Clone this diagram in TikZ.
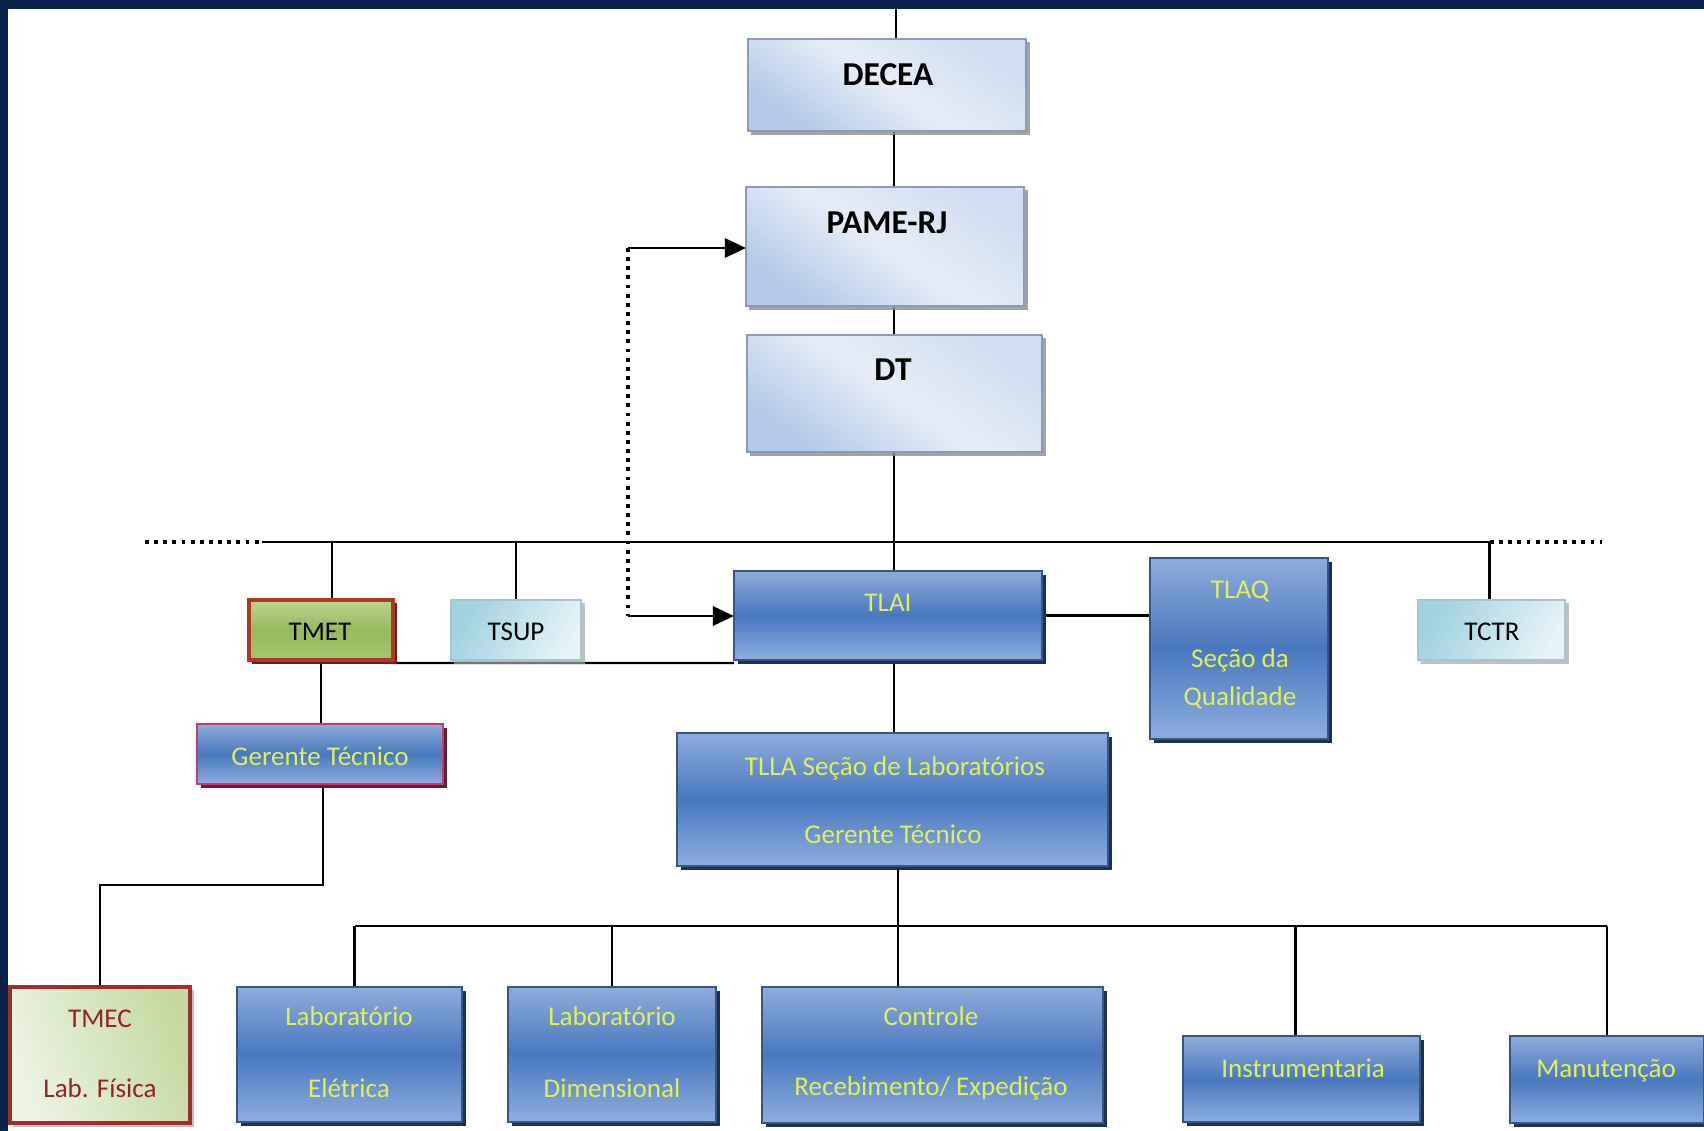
\documentclass[tikz,border=0pt]{standalone}
\usepackage{fontspec}
\setmainfont{Carlito}
\usetikzlibrary{arrows.meta,shadows,calc}
\pgfdeclarelayer{bg}
\pgfsetlayers{bg,main}
\definecolor{navy}{RGB}{10,35,75}
\definecolor{ylw}{RGB}{222,240,90}
\definecolor{paleT}{RGB}{208,222,242}
\definecolor{paleM}{RGB}{230,237,247}
\definecolor{paleB}{RGB}{178,201,233}
\definecolor{paleEdge}{RGB}{140,155,178}
\definecolor{blueT}{RGB}{142,172,218}
\definecolor{blueM}{RGB}{72,120,190}
\definecolor{blueB}{RGB}{142,174,222}
\definecolor{blueEdge}{RGB}{55,85,135}
\definecolor{blueShadow}{RGB}{30,48,82}
\definecolor{grnT}{RGB}{192,212,142}
\definecolor{grnM}{RGB}{150,186,96}
\definecolor{grnB}{RGB}{165,198,108}
\definecolor{redEdge}{RGB}{175,55,35}
\definecolor{redShadow}{RGB}{95,35,25}
\definecolor{cyanL}{RGB}{160,210,224}
\definecolor{cyanR}{RGB}{230,243,248}
\definecolor{cyanEdge}{RGB}{165,198,208}
\definecolor{crimson}{RGB}{200,60,100}
\definecolor{maroon}{RGB}{95,30,55}
\definecolor{mecL}{RGB}{236,244,228}
\definecolor{mecR}{RGB}{196,218,160}
\definecolor{mecEdge}{RGB}{160,45,45}
\definecolor{mecText}{RGB}{150,35,35}
\tikzset{
  conn/.style={line width=0.65pt, draw=black},
  dotline/.style={line width=1.1pt, dash pattern=on 1.1pt off 1.5pt},
  arrowline/.style={conn, -{Triangle[length=6pt,width=5.5pt]}},
  box/.style={rectangle, inner sep=0pt, outer sep=0pt},
  palebox/.style={box, draw=paleEdge, line width=0.4pt, top color=paleT, bottom color=paleB, middle color=paleM, shading angle=-35,
    drop shadow={shadow xshift=0.035cm, shadow yshift=-0.035cm, opacity=0.8, fill=black!45}},
  bluebox/.style={box, draw=blueEdge, line width=0.4pt, top color=blueT, bottom color=blueB, middle color=blueM,
    drop shadow={shadow xshift=0.04cm, shadow yshift=-0.04cm, opacity=1, fill=blueShadow}},
  gerbox/.style={bluebox, draw=crimson, line width=0.8pt,
    drop shadow={shadow xshift=0.04cm, shadow yshift=-0.04cm, opacity=1, fill=maroon}},
  metbox/.style={box, draw=redEdge, line width=1pt, top color=grnT, bottom color=grnB, middle color=grnM,
    drop shadow={shadow xshift=0.035cm, shadow yshift=-0.035cm, opacity=1, fill=redShadow}},
  cyanbox/.style={box, draw=cyanEdge, line width=0.4pt, left color=cyanL, right color=cyanR, shading angle=60,
    drop shadow={shadow xshift=0.035cm, shadow yshift=-0.035cm, opacity=0.7, fill=black!35}},
  mecbox/.style={box, draw=mecEdge, line width=0.9pt, left color=mecL, right color=mecR, shading angle=110,
    drop shadow={shadow xshift=0.035cm, shadow yshift=-0.035cm, opacity=0.6, fill=black!40}},
  txt/.style={inner sep=0pt, font=\fontsize{7.7}{9.2}\selectfont, text=ylw, text height=1.5ex, text depth=0.3ex},
  blacktxt/.style={txt, text=black},
  redtxt/.style={txt, text=mecText},
  boldtxt/.style={txt, text=black, font=\bfseries\fontsize{9.5}{11}\selectfont}
}
\begin{document}
\begin{tikzpicture}[x=0.01cm, y=-0.01cm]
\useasboundingbox (0,0) rectangle (1704,1131);

% boxes
\node[palebox, minimum width=2.78cm, minimum height=0.92cm] (decea) at (887,85) {};
\node[palebox, minimum width=2.78cm, minimum height=1.19cm] (pame) at (885,246.5) {};
\node[palebox, minimum width=2.95cm, minimum height=1.17cm] (dt) at (894.5,393.5) {};
\node[metbox, minimum width=1.44cm, minimum height=0.60cm] (tmet) at (321,630) {};
\node[cyanbox, minimum width=1.30cm, minimum height=0.60cm] (tsup) at (516,630) {};
\node[bluebox, minimum width=3.08cm, minimum height=0.89cm] (tlai) at (888,615.5) {};
\node[bluebox, minimum width=1.78cm, minimum height=1.81cm] (tlaq) at (1239,648.5) {};
\node[cyanbox, minimum width=1.47cm, minimum height=0.60cm] (tctr) at (1491.5,630) {};
\node[gerbox, minimum width=2.46cm, minimum height=0.60cm] (gerL) at (320,754) {};
\node[bluebox, minimum width=4.31cm, minimum height=1.33cm] (tlla) at (892.5,799.5) {};
\node[mecbox, minimum width=1.80cm, minimum height=1.36cm] (tmec) at (100,1055) {};
\node[bluebox, minimum width=2.25cm, minimum height=1.35cm] (labE) at (349.5,1054.5) {};
\node[bluebox, minimum width=2.08cm, minimum height=1.35cm] (labD) at (612,1054.5) {};
\node[bluebox, minimum width=3.41cm, minimum height=1.36cm] (ctrl) at (932.5,1055) {};
\node[bluebox, minimum width=2.37cm, minimum height=0.86cm] (instr) at (1301.5,1079) {};
\node[bluebox, minimum width=1.94cm, minimum height=0.87cm] (manut) at (1607,1079.5) {};

% texts
\node[boldtxt] (tDecea) at (888,75) {DECEA};
\node[boldtxt] (tPame) at (887,223) {PAME-RJ};
\node[boldtxt] (tDt) at (893,370) {DT};
\node[blacktxt] (tTmet) at (320,630) {TMET};
\node[blacktxt] (tTsup) at (516,630) {TSUP};
\node[blacktxt] (tTctr) at (1492,630) {TCTR};
\node[txt] (tTlai) at (888,601) {TLAI};
\node[txt] (tTlaq1) at (1240,588) {TLAQ};
\node[txt] (tTlaq2) at (1240,657) {Seção da};
\node[txt] (tTlaq3) at (1240,695) {Qualidade};
\node[txt] (tGer) at (320,755) {Gerente Técnico};
\node[txt] (tTlla1) at (895,765) {TLLA Seção de Laboratórios};
\node[txt] (tTlla2) at (893,833) {Gerente Técnico};
\node[redtxt] (tMec1) at (100,1017) {TMEC};
\node[redtxt] (tMec2) at (100,1087) {Lab. Física};
\node[txt] (tLabE1) at (349,1015) {Laboratório};
\node[txt] (tLabE2) at (349,1087) {Elétrica};
\node[txt] (tLabD1) at (612,1015) {Laboratório};
\node[txt] (tLabD2) at (612,1087) {Dimensional};
\node[txt] (tCtrl1) at (931,1015) {Controle};
\node[txt] (tCtrl2) at (931,1085) {Recebimento/ Expedição};
\node[txt] (tInstr) at (1303,1067) {Instrumentaria};
\node[txt] (tManut) at (1606,1067) {Manutenção};

% coordinates
\coordinate (topin) at (896,9);
\coordinate (trunk) at (894,0);
\coordinate (trunk2) at (898,0);
\coordinate (busLL) at (145,542);
\coordinate (busL) at (262,542);
\coordinate (busR) at (1490,542);
\coordinate (busRR) at (1602,542);
\coordinate (sub) at (0,926);
\coordinate (gbend) at (0,885);
\coordinate (dTop) at (628,248);
\coordinate (dBot) at (628,616);

\begin{pgfonlayer}{bg}
\fill[navy] (0,0) rectangle (1704,1131);
\fill[white] (8,9) rectangle (1704,1131);
% main trunk
\draw[conn] (topin) -- (topin |- decea.north);
\draw[conn] (trunk |- decea.south) -- (trunk |- pame.north);
\draw[conn] (trunk |- pame.south) -- (trunk |- dt.north);
\draw[conn] (trunk |- dt.south) -- (trunk |- tlai.north);
\draw[conn] (trunk |- tlai.south) -- (trunk |- tlla.north);
% upper bus
\draw[conn] (busL) -- (busR);
\draw[dotline] (busLL) -- (busL);
\draw[dotline] (busR) -- (busRR);
\draw[conn] ([xshift=0.11cm]tmet.north) -- ([xshift=0.11cm]tmet.north |- busL);
\draw[conn] (tsup.north) -- (tsup.north |- busL);
\draw[conn] ([xshift=-0.02cm]tctr.north) -- ([xshift=-0.02cm]tctr.north |- busR);
% side links
\draw[conn] (tlai.east) -- (tlai.east -| tlaq.west);
\draw[conn] ([yshift=-0.03cm]tmet.south east) -- ([yshift=-0.03cm]tlai.south west);
\draw[conn] (tmet.south) -- (tmet.south |- gerL.north);
\draw[conn] ([xshift=0.03cm]gerL.south) -- ([xshift=0.03cm]gerL.south |- gbend) -| (tmec.north);
% dotted feedback link
\draw[dotline] (dTop) -- (dBot);
\draw[arrowline] (dTop) -- (dTop -| pame.west);
\draw[arrowline] (dBot) -- (dBot -| tlai.west);
% lower bus
\draw[conn] (trunk2 |- tlla.south) -- (trunk2 |- ctrl.north);
\draw[conn] ([xshift=0.05cm]labE.north |- sub) -- (manut.north |- sub);
\draw[conn] ([xshift=0.05cm]labE.north) -- ([xshift=0.05cm]labE.north |- sub);
\draw[conn] (labD.north) -- (labD.north |- sub);
\draw[conn] ([xshift=-0.06cm]instr.north) -- ([xshift=-0.06cm]instr.north |- sub);
\draw[conn] (manut.north) -- (manut.north |- sub);
\end{pgfonlayer}
\end{tikzpicture}
\end{document}
